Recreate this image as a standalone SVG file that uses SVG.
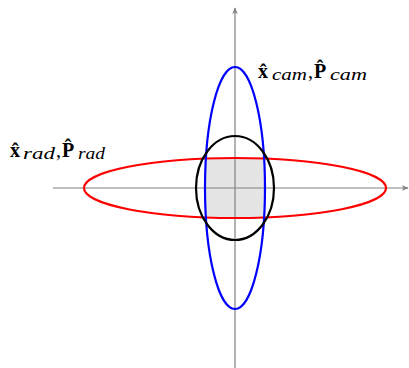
<svg xmlns="http://www.w3.org/2000/svg" width="409" height="368" viewBox="0 0 409 368">
<style>
.axis{stroke:#808080;stroke-width:1.2;fill:none}
.ell{fill:none;stroke-width:2.2}
.lbl{font-family:"Liberation Serif","Times New Roman",serif;font-size:20px;fill:#000}
.b{font-weight:bold}
.sub{font-style:italic;font-size:17px}
</style>
<defs>
<marker id="arr" viewBox="0 0 10 10" refX="9" refY="5" markerWidth="7" markerHeight="7" orient="auto" markerUnits="userSpaceOnUse">
<path d="M0,1 L10,5 L0,9 L3,5 Z" fill="#808080"/>
</marker>
<clipPath id="clipBlue"><ellipse cx="235" cy="188" rx="30" ry="121"/></clipPath>
</defs>
<g id="intersection">
<ellipse cx="235" cy="188" rx="151" ry="30" fill="#e5e5e5" clip-path="url(#clipBlue)"/>
</g>
<g id="axes">
<line class="axis" x1="53" y1="188" x2="408" y2="188" marker-end="url(#arr)"/>
<line class="axis" x1="235" y1="368" x2="235" y2="8" marker-end="url(#arr)"/>
</g>
<g id="radEllipse"><ellipse class="ell" cx="235" cy="188" rx="151" ry="30" stroke="#ff0000"/></g>
<g id="camEllipse"><ellipse class="ell" cx="235" cy="188" rx="30" ry="121" stroke="#0000ff"/></g>
<g id="fusedEllipse"><ellipse class="ell" cx="235" cy="188" rx="39" ry="52" stroke="#000"/></g>
<g id="labelCam">
<text class="lbl"><tspan class="b" x="258" y="78">x̂</tspan><tspan class="sub" x="272" y="80" textLength="35" lengthAdjust="spacingAndGlyphs">cam</tspan><tspan x="308" y="78">,</tspan><tspan class="b" x="314" y="78">P̂</tspan><tspan class="sub" x="330" y="80" textLength="37" lengthAdjust="spacingAndGlyphs">cam</tspan></text>
</g>
<g id="labelRad">
<text class="lbl"><tspan class="b" x="10" y="157">x̂</tspan><tspan class="sub" x="23" y="159" textLength="32" lengthAdjust="spacingAndGlyphs">rad</tspan><tspan x="56" y="157">,</tspan><tspan class="b" x="62" y="157">P̂</tspan><tspan class="sub" x="78" y="159" textLength="27" lengthAdjust="spacingAndGlyphs">rad</tspan></text>
</g>
</svg>
